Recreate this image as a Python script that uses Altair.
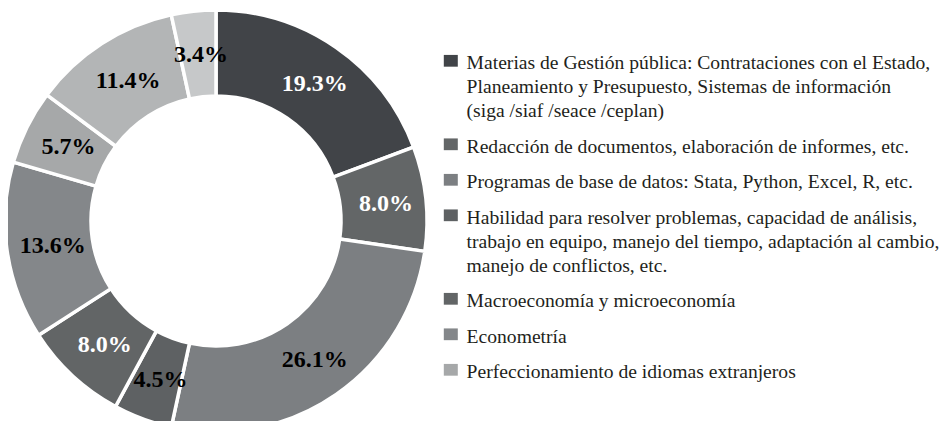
import altair as alt
import pandas as pd

categories = [
    "Materias de Gestión pública: Contrataciones con el Estado,\nPlaneamiento y Presupuesto, Sistemas de información\n(siga /siaf /seace /ceplan)",
    "Redacción de documentos, elaboración de informes, etc.",
    "Programas de base de datos: Stata, Python, Excel, R, etc.",
    "Habilidad para resolver problemas, capacidad de análisis,\ntrabajo en equipo, manejo del tiempo, adaptación al cambio,\nmanejo de conflictos, etc.",
    "Macroeconomía y microeconomía",
    "Econometría",
    "Perfeccionamiento de idiomas extranjeros",
    "Otros temas",
    "Otros",
]
values = [19.3, 8.0, 26.1, 4.5, 8.0, 13.6, 5.7, 11.4, 3.4]
slice_colors = ["#414448", "#636667", "#7c7f82", "#5e6163", "#626566",
                "#84878a", "#a6a8a9", "#b3b5b6", "#c6c8c9"]
label_colors = ["#ffffff", "#ffffff", "#000000", "#000000", "#ffffff",
                "#000000", "#000000", "#000000", "#000000"]
legend_shown = categories[:7]

df = pd.DataFrame({
    "cat": categories,
    "value": values,
    "order": list(range(len(values))),
    "label": [f"{v:.1f}%" for v in values],
    "lc": label_colors,
})

cx, cy = 208, 213
FONT = "Liberation Serif"
LSIZE = 19.6

base = alt.Chart(df).encode(
    theta=alt.Theta("value:Q", stack=True),
    order=alt.Order("order:Q", sort="ascending"),
)

arcs = base.mark_arc(radius=211, innerRadius=125, stroke="white", strokeWidth=3.5).encode(
    x=alt.value(cx),
    y=alt.value(cy),
    color=alt.Color(
        "cat:N",
        scale=alt.Scale(domain=categories, range=slice_colors),
        legend=alt.Legend(
            orient="none",
            legendX=433,
            legendY=43,
            title=None,
            values=legend_shown,
            padding=0,
            symbolType="M-1,-0.84H1V0.84H-1Z",
            symbolSize=196,
            symbolStrokeWidth=0,
            labelFont=FONT,
            labelFontSize=LSIZE,
            labelColor="#231f20",
            labelLimit=700,
            labelOffset=6,
            labelBaseline="alphabetic",
            labelExpr="split(datum.label, '\\n')",
            rowPadding=13.5,
        ),
    ),
)

texts = base.mark_text(radius=168, dx=3, dy=1, font=FONT, fontWeight="bold", fontSize=24).encode(
    x=alt.value(cx),
    y=alt.value(cy),
    text="label:N",
    fill=alt.Fill("lc:N", scale=None),
)

chart = alt.layer(arcs, texts).properties(
    width=933,
    height=413,
    padding=0,
    autosize=alt.AutoSizeParams(type="none"),
).configure(
    view=alt.ViewConfig(stroke=None),
    legend=alt.LegendConfig(labelFont=FONT, labelFontSize=LSIZE),
    style={"guide-label": {"lineHeight": 24, "dy": 8.5,
                           "font": FONT, "fontSize": LSIZE,
                           "fill": "#231f20"}},
)

chart.save("out.html", embed_options={"renderer": "svg", "actions": False})
